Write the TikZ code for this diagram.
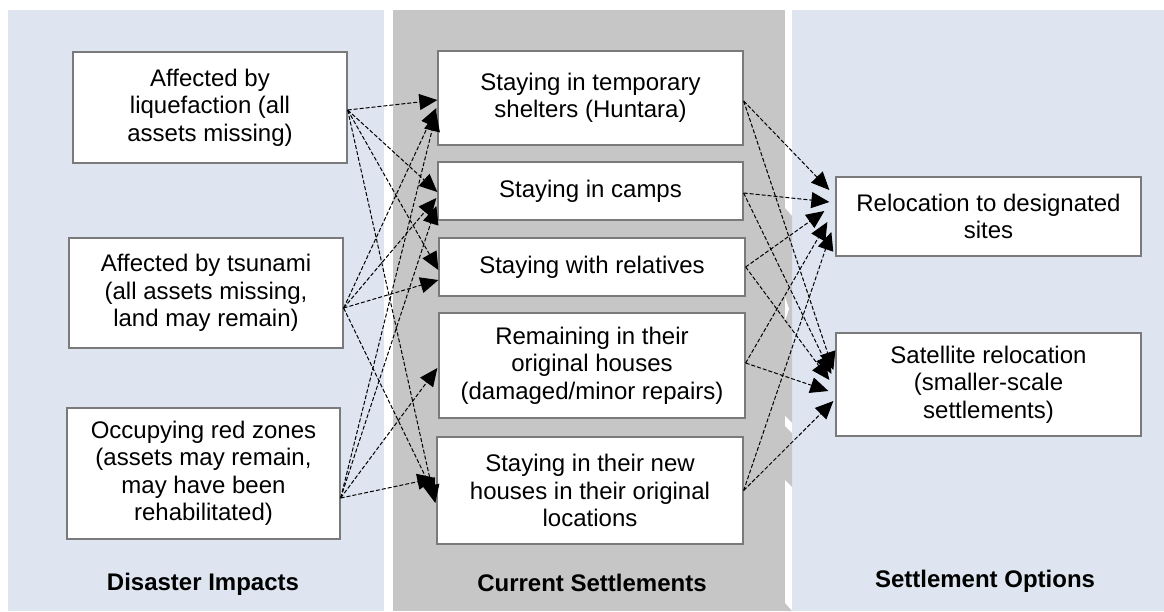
\documentclass[tikz,border=0pt]{standalone}
\usepackage{fontspec}
\setmainfont{Liberation Sans}
\usetikzlibrary{arrows.meta}
\definecolor{paleblue}{HTML}{DEE5F0}
\definecolor{midgray}{HTML}{C6C6C6}
\definecolor{boxline}{HTML}{7A7A7A}

\begin{document}
\begin{tikzpicture}[x=1pt,y=-1pt,
    every node/.style={font=\fontsize{24}{27.5}\selectfont,align=center,inner sep=0pt},
    box/.style={draw=boxline,line width=1.3pt,fill=white},
    head/.style={font=\fontsize{24}{27.5}\selectfont\bfseries},
    conn/.style={line width=1pt,dash pattern=on 4pt off 2pt,-{Triangle[length=18pt,width=16pt]}}]
    \useasboundingbox (0,0) rectangle (1164,611);
    % background panels
    \fill[paleblue] (8,10) rectangle (384,611);
    \fill[midgray] (393,10) rectangle (785,611);
    \fill[paleblue] (792,10) rectangle (1164,611);
    \fill[midgray] (785,208) -- (792,216) -- (792,487) -- (785,480) -- cycle;
    \fill[white] (785,297) -- (789,309) -- (785,321) -- cycle;
    \fill[white] (785,416) -- (792,423) -- (792,433) -- (785,426) -- cycle;
    \fill[midgray] (785,603) -- (792,611) -- (785,611) -- cycle;
    % disaster impacts
    \node[box,minimum width=274pt,minimum height=111pt] (L1) at (210,107.5) {Affected by\\liquefaction (all\\assets missing)};
    \node[box,minimum width=274pt,minimum height=110pt] (L2) at (206,293) {Affected by tsunami\\(all assets missing,\\land may remain)};
    \node[box,minimum width=273pt,minimum height=131pt] (L3) at (203.5,473.5) {Occupying red zones\\(assets may remain,\\may have been\\rehabilitated)};
    % current settlements
    \node[box,minimum width=305pt,minimum height=94pt] (M1) at (590.5,98) {Staying in temporary\\shelters (Huntara)};
    \node[box,minimum width=305pt,minimum height=58pt] (M2) at (590.5,191) {Staying in camps};
    \node[box,minimum width=306pt,minimum height=58pt] (M3) at (592,267) {Staying with relatives};
    \node[box,minimum width=306pt,minimum height=105pt] (M4) at (592,365.5) {Remaining in their\\original houses\\(damaged/minor repairs)};
    \node[box,minimum width=306pt,minimum height=107pt] (M5) at (590,490.5) {Staying in their new\\houses in their original\\locations};
    % settlement options
    \node[box,minimum width=305pt,minimum height=79pt] (R1) at (988.5,216.5) {Relocation to designated\\sites};
    \node[box,minimum width=305pt,minimum height=103pt] (R2) at (988.5,384.5) {Satellite relocation\\(smaller-scale\\settlements)};
    % panel titles
    \node[head] (T1) at (203,584) {Disaster Impacts};
    \node[head] (T2) at (592,583) {Current Settlements};
    \node[head] (T3) at (985,581) {Settlement Options};
    % impacts to settlements
    \draw[conn] ([yshift=-2.5pt]L1.east) -- ([yshift=-2pt]M1.west);
    \draw[conn] ([yshift=-2.5pt]L1.east) -- ([yshift=-1pt]M2.west);
    \draw[conn] ([yshift=-2.5pt]L1.east) -- ([yshift=-3pt]M3.west);
    \draw[conn] ([yshift=-2.5pt]L1.east) -- ([xshift=-1pt,yshift=-12.5pt]M5.west);
    \draw[conn] ([yshift=-15pt]L2.east) -- ([xshift=-1pt,yshift=-10pt]M1.west);
    \draw[conn] ([yshift=-15pt]L2.east) -- ([xshift=-1pt,yshift=-7pt]M2.west);
    \draw[conn] ([yshift=-15pt]L2.east) -- ([yshift=-13pt]M3.west);
    \draw[conn] ([yshift=-15pt]L2.east) -- ([xshift=-1pt,yshift=-6.5pt]M5.west);
    \draw[conn] ([yshift=-24.5pt]L3.east) -- ([xshift=-1pt,yshift=-15pt]M1.west);
    \draw[conn] ([yshift=-24.5pt]L3.east) -- ([xshift=-1pt,yshift=-15pt]M2.west);
    \draw[conn] ([yshift=-24.5pt]L3.east) -- ([xshift=-1pt,yshift=-2.5pt]M4.west);
    \draw[conn] ([yshift=-24.5pt]L3.east) -- ([xshift=-1pt,yshift=12.5pt]M5.west);
    % settlements to options
    \draw[conn] ([yshift=-3pt]M1.east) -- ([xshift=-6pt,yshift=26.5pt]R1.west);
    \draw[conn] ([yshift=-3pt]M1.east) -- ([xshift=-2pt,yshift=14.5pt]R2.west);
    \draw[conn] ([yshift=-2pt]M2.east) -- ([xshift=-6pt,yshift=14.5pt]R1.west);
    \draw[conn] ([yshift=-2pt]M2.east) -- ([xshift=-4pt,yshift=10.5pt]R2.west);
    \draw[conn] (M3.east) -- ([xshift=-11pt,yshift=5.5pt]R1.west);
    \draw[conn] (M3.east) -- ([xshift=-6pt,yshift=4.5pt]R2.west);
    \draw[conn] ([yshift=2.5pt]M4.east) -- ([xshift=-8pt,yshift=-5.5pt]R1.west);
    \draw[conn] ([yshift=2.5pt]M4.east) -- ([xshift=-7pt,yshift=-6.5pt]R2.west);
    \draw[conn] (M5.east) -- ([xshift=-4pt,yshift=-15.5pt]R1.west);
    \draw[conn] (M5.east) -- ([xshift=-2pt,yshift=-16.5pt]R2.west);
\end{tikzpicture}
\end{document}
